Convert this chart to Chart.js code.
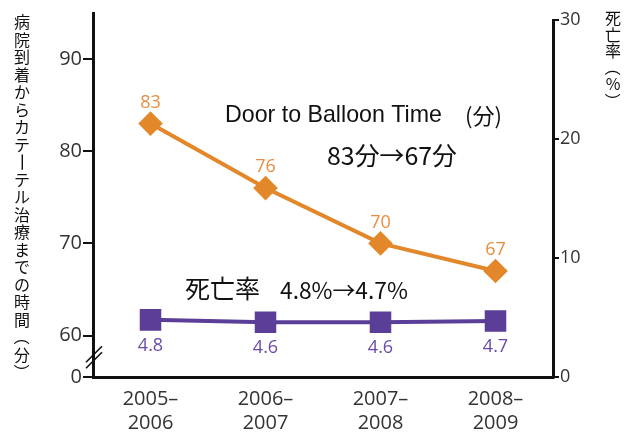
<!DOCTYPE html>
<html><head><meta charset="utf-8">
<script src="https://cdn.jsdelivr.net/npm/chart.js@4/dist/chart.umd.min.js"></script>
<style>html,body{margin:0;padding:0;background:#fff}#wrap{width:630px;height:436px}</style>
</head><body><div id="wrap"><canvas id="c" width="630" height="436"></canvas></div>
<script>
const categories = [["2005–","2006"],["2006–","2007"],["2007–","2008"],["2008–","2009"]];
const doorToBalloon = [83, 76, 70, 67];
const mortality = [4.8, 4.6, 4.6, 4.7];
const leftTicks = [55.5, 60, 70, 80, 90];   // 55.5 is the broken-axis "0"
const leftTickLabels = ["0", "60", "70", "80", "90"];
const rightTicks = [0, 10, 20, 30];
const leftTitle = "病院到着からカテーテル治療までの時間（分）";
const rightTitle = "死亡率（%）";

const ORANGE = "#E3882A", PURPLE = "#5A3E98";
const OPEN = "'Open Sans', sans-serif";
const CJK = "'Noto Sans CJK JP', sans-serif";

const deco = {
  id: 'deco',
  afterDatasetsDraw(chart) {
    const ctx = chart.ctx;
    const yl = chart.scales.yL, yr = chart.scales.yR;
    ctx.save();
    // right axis line (from 0 to 30)
    ctx.strokeStyle = '#111'; ctx.lineWidth = 3;
    ctx.beginPath();
    ctx.moveTo(yr.left + 0.5, yr.getPixelForValue(30) - 1);
    ctx.lineTo(yr.left + 0.5, yr.getPixelForValue(0) + 1.5);
    ctx.stroke();
    // break marks on left axis
    const bx = yl.right + 1, by = (yl.getPixelForValue(60) + yl.getPixelForValue(55.5)) / 2 + 1;
    ctx.lineWidth = 1.6;
    for (const d of [-3, 3]) {
      ctx.beginPath();
      ctx.moveTo(bx - 8, by + d + 8);
      ctx.lineTo(bx + 8, by + d - 8);
      ctx.stroke();
    }
    // data labels
    ctx.textAlign = 'center'; ctx.textBaseline = 'middle';
    ctx.font = "18px " + OPEN;
    chart.getDatasetMeta(0).data.forEach((p, i) => {
      ctx.fillStyle = '#E88E42';
      ctx.fillText(String(doorToBalloon[i]), p.x, p.y - 21);
    });
    chart.getDatasetMeta(1).data.forEach((p, i) => {
      ctx.fillStyle = '#6A4CA8';
      ctx.fillText(mortality[i].toFixed(1), p.x, p.y + 26);
    });
    // annotations, fitted to width
    const fit = (text, x, y, w, fam) => {
      let s = 20;
      ctx.font = s + "px " + fam;
      s = s * w / ctx.measureText(text).width;
      ctx.font = s.toFixed(2) + "px " + fam;
      ctx.textAlign = 'left'; ctx.textBaseline = 'middle';
      ctx.fillText(text, x, y);
    };
    ctx.fillStyle = '#111';
    fit("Door to Balloon Time", 225, 116, 217, "'Liberation Sans', Arial, sans-serif");
    fit("(分)", 465, 116, 37, CJK);
    fit("83分→67分", 327, 156, 130, CJK);
    fit("死亡率", 185, 288, 75, CJK);
    fit("4.8%→4.7%", 280, 290, 128, CJK);
    // vertical titles
    const vert = (text, x, y0, step, size) => {
      ctx.font = size + "px " + CJK;
      ctx.textAlign = 'center'; ctx.textBaseline = 'middle';
      [...text].forEach((ch, i) => {
        const y = y0 + i * step;
        if ('ー（）'.includes(ch)) {
          ctx.save(); ctx.translate(x, y); ctx.rotate(Math.PI / 2);
          if (ch === 'ー') ctx.scale(1.2, 1);
          ctx.fillText(ch, 0, 0); ctx.restore();
        } else ctx.fillText(ch, x, y);
      });
    };
    vert(leftTitle, 22, 22, 17.5, 16);
    vert(rightTitle, 613, 18, 16.6, 16);
    ctx.restore();
  }
};

new Chart(document.getElementById('c'), {
  type: 'line',
  data: {
    labels: categories,
    datasets: [
      {data: doorToBalloon, yAxisID: 'yL', borderColor: ORANGE, backgroundColor: ORANGE,
       borderWidth: 4, pointStyle: 'rectRot', pointRadius: 9.5, pointHoverRadius: 9.5, tension: 0},
      {data: mortality, yAxisID: 'yR', borderColor: PURPLE, backgroundColor: PURPLE,
       borderWidth: 4, pointStyle: 'rect', pointRadius: 12.4, pointHoverRadius: 12.4, tension: 0}
    ]
  },
  options: {
    responsive: false, animation: false, devicePixelRatio: 1,
    layout: {autoPadding: false, padding: {top: 7, left: 0, right: 0, bottom: 0}},
    plugins: {legend: {display: false}, tooltip: {enabled: false}},
    scales: {
      x: {
        offset: true,
        grid: {display: false, drawTicks: false},
        border: {display: true, color: '#111', width: 3},
        ticks: {color: '#333', font: {family: OPEN, size: 20, lineHeight: 1.22}, padding: 10, maxRotation: 0},
        afterFit(s) { s.height = 59; }
      },
      yL: {
        position: 'left', min: 55.5, max: 95,
        afterBuildTicks(s) { s.ticks = leftTicks.map(v => ({value: v})); },
        grid: {drawOnChartArea: false, drawTicks: true, tickLength: 10, color: '#111', lineWidth: 2},
        border: {display: true, color: '#111', width: 3},
        ticks: {color: '#333', font: {family: OPEN, size: 20}, padding: 1,
                callback: (v) => leftTickLabels[leftTicks.indexOf(v)]},
        afterFit(s) { s.width = 93; }
      },
      yR: {
        position: 'right', min: 0, max: 30 + 7 / 12.1,
        afterBuildTicks(s) { s.ticks = rightTicks.map(v => ({value: v})); },
        grid: {drawOnChartArea: false, drawTicks: true, tickLength: 6, color: '#111', lineWidth: 2},
        border: {display: false},
        ticks: {color: '#333', font: {family: OPEN, size: 18}, padding: 1},
        afterFit(s) { s.width = 77; }
      }
    }
  },
  plugins: [deco]
});
</script></body></html>
